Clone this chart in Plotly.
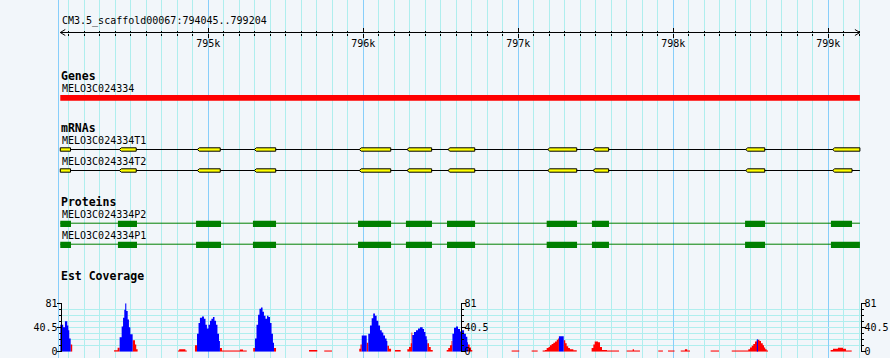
import plotly.graph_objects as go

# ---------------- data ----------------
region_name = "CM3.5_scaffold00067"
view_start = 794045
view_end = 799204
ruler_tickvals = [795000, 796000, 797000, 798000, 799000]
ruler_ticktext = ["795k", "796k", "797k", "798k", "799k"]

gene_name = "MELO3C024334"
gene_start = 794045
gene_end = 799204

mrna_names = ["MELO3C024334T1", "MELO3C024334T2"]
mrna_exon_starts = [794045, 794426, 794929, 795297, 795974, 796282, 796546, 797190, 797482, 798467, 799028]
t1_exon_ends = [794111, 794535, 795077, 795435, 796177, 796441, 796719, 797377, 797583, 798590, 799204]
t2_exon_ends = [794111, 794535, 795077, 795435, 796177, 796441, 796719, 797377, 797583, 798590, 799153]

protein_names = ["MELO3C024334P2", "MELO3C024334P1"]
cds_starts = [794045, 794417, 794921, 795288, 795966, 796275, 796540, 797183, 797475, 798463, 799017]
p2_cds_ends = [794114, 794540, 795082, 795437, 796179, 796443, 796721, 797379, 797585, 798592, 799153]
p1_cds_ends = [794114, 794540, 795082, 795437, 796179, 796443, 796721, 797379, 797585, 798592, 799204]

cov_max = 81
cov_tickvals = [0, 40.5, 81]
cov_ticktext = ["0", "40.5", "81"]

# coverage (step change points: position, value)
cov_red_x = [794112, 794122,
             794392, 794415, 794428, 794512, 794527, 794535, 794544,
             794804, 794812, 794852, 794861,
             794914, 794927, 795075, 795088, 795204, 795224, 795248,
             795290, 795301, 795424, 795437,
             795650, 795703, 795748, 795798,
             795974, 795982, 795990, 796022, 796032, 796155, 796166, 796179,
             796204, 796241,
             796284, 796295, 796306, 796311, 796316, 796413, 796424, 796435, 796448,
             796538, 796548, 796559, 796569, 796575, 796675, 796686, 796695, 796703,
             796957, 797006, 797086, 797125,
             797157, 797172, 797183, 797195, 797204, 797215, 797226, 797237, 797248, 797256,
             797262, 797293, 797303, 797312, 797322, 797333, 797355, 797377,
             797473, 797484, 797493, 797514, 797527, 797540, 797572, 797650,
             797699, 797738, 797746, 797785,
             797903, 797933, 797966, 798008,
             798048, 798075, 798090, 798108,
             798241, 798295,
             798377, 798484, 798495, 798506, 798516, 798527, 798538, 798546, 798556,
             798566, 798577, 798585, 798593, 798602, 798611,
             799015, 799030, 799062, 799095, 799114, 799151]
cov_red_y = [12, 0,
             2.5, 6.5, 0, 19, 12, 4, 0,
             2, 4, 2, 0,
             11, 0, 6, 2, 3.7, 2, 0,
             6, 0, 6, 0,
             3, 0, 2, 0,
             5, 12, 0, 15, 0, 10, 5, 0,
             3, 0,
             4, 8, 14, 32, 0, 14, 8, 3, 0,
             3, 6, 11, 18, 0, 12, 7, 3, 0,
             2, 0, 2, 0,
             2, 3, 6, 8, 11, 13, 15, 17, 20, 22,
             0, 19, 14, 9, 6, 4, 2.5, 0,
             6, 12, 17, 16, 8, 3, 2, 0,
             2, 4, 2, 0,
             2, 0, 2, 0,
             2, 4, 2, 0,
             2, 0,
             2, 4, 7, 10, 13, 17, 19, 20, 18,
             14, 11, 7, 4, 2, 0,
             3, 5, 6.5, 5, 2, 0]

cov_blue_x = [794045, 794064, 794075, 794090, 794097, 794103, 794112,
              794428, 794441, 794450, 794458, 794464, 794471, 794480, 794488, 794497, 794512,
              794927, 794937, 794946, 794959, 794972, 794982, 794991, 795001, 795011, 795020,
              795030, 795040, 795050, 795059, 795069, 795075,
              795301, 795311, 795321, 795330, 795340, 795350, 795359, 795369, 795379, 795388,
              795398, 795408, 795417, 795424,
              795990, 796022, 796032, 796043, 796054, 796064, 796075, 796086, 796097, 796108,
              796119, 796129, 796140, 796150, 796155,
              796316, 796327, 796340, 796353, 796366, 796383, 796392, 796401, 796409, 796413,
              796575, 796585, 796598, 796611, 796624, 796637, 796650, 796662, 796671, 796675,
              797262, 797293,
              798539, 798546]
cov_blue_y = [45, 41, 51, 44, 36, 22, 0,
              24, 42, 57, 70, 81, 68, 54, 41, 29, 0,
              30, 48, 57, 59, 55, 45, 39, 45, 52, 55,
              58, 52, 45, 30, 18, 0,
              22, 45, 62, 72, 74, 67, 60, 55, 60, 58,
              48, 30, 15, 0,
              27, 0, 30, 44, 56, 64, 60, 52, 44, 36,
              32, 27, 22, 18, 0,
              28, 33, 36, 39, 41, 38, 33, 26, 20, 0,
              30, 40, 42, 38, 34, 36, 30, 25, 16, 0,
              26, 0,
              21, 0]

# ---------------- layout helpers (pixels) ----------------
W, H = 890, 358
PX_PER_BP = 0.155
REF_BP, REF_PX = 795000, 208.3
MONO = "DejaVu Sans Mono"
BG = "#F2F6FA"
GRID_MINOR = "#AFEEEE"
GRID_MAJOR = "#87CEFA"


def bp_at(px):
    return REF_BP + (px - REF_PX) / PX_PER_BP


def bp_len(px):
    return px / PX_PER_BP


def paper_x(px):
    return px / W


def paper_y(px):
    return 1 - px / H


x_range = [bp_at(59), bp_at(862)]
x_domain = [paper_x(59), paper_x(862)]


def boxes(starts, ends, top, bot, tip=0.0):
    xs, ys = [], []
    for s, e in zip(starts, ends):
        mid = (top + bot) / 2
        if tip > 0 and s > view_start:
            xs += [s, s + tip, e, e, s + tip, s, None]
            ys += [mid, top, top, bot, bot, mid, None]
        else:
            xs += [s, e, e, s, s, None]
            ys += [top, top, bot, bot, top, None]
    return xs, ys


fig = go.Figure()

# ruler line and arrow heads
RULER_Y = 32.5
fig.add_trace(go.Scatter(x=[view_start, view_end], y=[RULER_Y, RULER_Y], mode="lines",
                         line=dict(color="black", width=1), xaxis="x2", yaxis="y",
                         hoverinfo="skip", showlegend=False))
a = bp_len(5)
fig.add_trace(go.Scatter(
    x=[view_start + a, view_start, view_start + a, None, view_end - a, view_end, view_end - a],
    y=[RULER_Y - 3, RULER_Y, RULER_Y + 3, None, RULER_Y - 3, RULER_Y, RULER_Y + 3],
    mode="lines", line=dict(color="black", width=1), xaxis="x2", yaxis="y",
    hoverinfo="skip", showlegend=False))
fig.add_trace(go.Scatter(x=[view_start], y=[RULER_Y], mode="markers", marker=dict(opacity=0),
                         xaxis="x3", yaxis="y", hoverinfo="skip", showlegend=False))

# gene bar
gx, gy = boxes([gene_start], [gene_end], 95, 100.7)
fig.add_trace(go.Scatter(x=gx, y=gy, fill="toself", fillcolor="#FF0000", mode="lines",
                         line=dict(width=0, color="#FF0000"), hoverinfo="skip", showlegend=False))

# mRNAs
mrna_rows = [(149.5, t1_exon_ends), (170.5, t2_exon_ends)]
for yc, ends in mrna_rows:
    fig.add_trace(go.Scatter(x=[mrna_exon_starts[0], view_end],
                             y=[yc, yc], mode="lines", line=dict(color="black", width=1),
                             hoverinfo="skip", showlegend=False))
    ex, ey = boxes(mrna_exon_starts, ends, yc - 1.7, yc + 1.7, tip=bp_len(2))
    fig.add_trace(go.Scatter(x=ex, y=ey, fill="toself", fillcolor="#FFFF00", mode="lines",
                             line=dict(color="black", width=1), hoverinfo="skip", showlegend=False))

# proteins
prot_rows = [(223.2, 220.7, 227.0, p2_cds_ends), (244.2, 241.7, 248.0, p1_cds_ends)]
for yl, top, bot, ends in prot_rows:
    fig.add_trace(go.Scatter(x=[cds_starts[0], view_end], y=[yl, yl], mode="lines",
                             line=dict(color="#008000", width=1), hoverinfo="skip", showlegend=False))
    px_, py_ = boxes(cds_starts, ends, top, bot)
    fig.add_trace(go.Scatter(x=px_, y=py_, fill="toself", fillcolor="#008000", mode="lines",
                             line=dict(width=0, color="#008000"), hoverinfo="skip", showlegend=False))

# coverage
fig.add_trace(go.Scatter(x=cov_red_x, y=cov_red_y, mode="lines", line=dict(shape="hv", width=0, color="#FF0000"),
                         fill="tozeroy", fillcolor="#FF0000", xaxis="x", yaxis="y2",
                         hoverinfo="skip", showlegend=False))
fig.add_trace(go.Scatter(x=cov_blue_x, y=cov_blue_y, mode="lines", line=dict(shape="hv", width=0, color="#0000FF"),
                         fill="tozeroy", fillcolor="#0000FF", xaxis="x", yaxis="y2",
                         hoverinfo="skip", showlegend=False))
for ax in ["y3", "y4"]:
    fig.add_trace(go.Scatter(x=[view_start], y=[0], mode="markers", marker=dict(opacity=0),
                             xaxis="x", yaxis=ax, hoverinfo="skip", showlegend=False))

# text labels
labels = [
    (f"{region_name}:{view_start}..{view_end}", 20.8, False),
    ("Genes", 76, True),
    (gene_name, 88, False),
    ("mRNAs", 127.5, True),
    (mrna_names[0], 140.2, False),
    (mrna_names[1], 161.8, False),
    ("Proteins", 201.7, True),
    (protein_names[0], 214.2, False),
    (protein_names[1], 235.5, False),
    ("Est Coverage", 276, True),
]
for text, yc, bold in labels:
    fig.add_annotation(text=f"<b>{text}</b>" if bold else text, xref="paper", yref="y",
                       x=paper_x(58.5 if bold else 59.5), y=yc, xanchor="left", yanchor="middle",
                       showarrow=False,
                       font=dict(family=MONO, size=11.5 if bold else 10, color="black"))

tickfont = dict(family=MONO, size=10, color="black")
cov_axis = dict(range=[0, cov_max], tickmode="array", tickvals=cov_tickvals, ticktext=cov_ticktext,
                ticks="outside", ticklen=4, tickwidth=1, tickcolor="black", tickfont=tickfont,
                showline=True, linecolor="black", linewidth=1, zeroline=False, fixedrange=True,
                automargin=False, ticklabelstandoff=-3,
                minor=dict(tickmode="linear", tick0=0, dtick=cov_max / 8, ticks="outside", ticklen=2,
                           tickwidth=1, tickcolor="black"))

fig.update_layout(
    template="none",
    width=W, height=H, autosize=False,
    margin=dict(l=0, r=0, t=0, b=0, pad=0, autoexpand=False),
    paper_bgcolor=BG, plot_bgcolor=BG,
    font=dict(family=MONO, size=10, color="black"),
    showlegend=False, hovermode=False,
    xaxis=dict(domain=x_domain, range=x_range, anchor="y", showticklabels=False, ticks="",
               showline=False, zeroline=False, automargin=False,
               tickmode="linear", tick0=REF_BP, dtick=1000,
               showgrid=True, gridcolor=GRID_MAJOR, gridwidth=1,
               minor=dict(tickmode="linear", tick0=REF_BP, dtick=100, showgrid=True,
                          gridcolor=GRID_MINOR, gridwidth=1)),
    xaxis2=dict(overlaying="x", anchor="free", position=paper_y(RULER_Y), range=x_range,
                showline=False, showgrid=False, zeroline=False, automargin=False,
                tickmode="array", tickvals=ruler_tickvals, ticktext=ruler_ticktext,
                ticks="outside", ticklen=4, tickwidth=1, tickcolor="black", tickfont=tickfont,
                ticklabelstandoff=-3,
                minor=dict(tickmode="linear", tick0=REF_BP, dtick=100, ticks="outside",
                           ticklen=2, tickwidth=1, tickcolor="black", showgrid=False)),
    xaxis3=dict(overlaying="x", anchor="free", position=paper_y(RULER_Y), range=x_range,
                showline=False, showgrid=False, zeroline=False, showticklabels=False,
                automargin=False,
                tickmode="array", tickvals=ruler_tickvals,
                ticks="inside", ticklen=5, tickwidth=1, tickcolor="black",
                minor=dict(tickmode="linear", tick0=REF_BP, dtick=100, ticks="inside",
                           ticklen=2, tickwidth=1, tickcolor="black", showgrid=False)),
    yaxis=dict(domain=[0, 1], range=[H, 0], anchor="x", showticklabels=False, ticks="",
               automargin=False,
               showgrid=False, zeroline=False, showline=True, linecolor=GRID_MAJOR, linewidth=1),
    yaxis2=dict(domain=[paper_y(351.7), paper_y(303.3)], anchor="free", position=paper_x(60.5),
                side="left", showgrid=True, gridcolor=GRID_MINOR, gridwidth=1,
                **{k: v for k, v in cov_axis.items() if k != "minor"},
                minor=dict(cov_axis["minor"], showgrid=True, gridcolor=GRID_MINOR, gridwidth=1)),
    yaxis3=dict(overlaying="y2", anchor="free", position=paper_x(460.5), side="right",
                showgrid=False, **cov_axis),
    yaxis4=dict(overlaying="y2", anchor="free", position=paper_x(860.5), side="right",
                showgrid=False, **cov_axis),
)

fig.write_html("out.html", config={"displayModeBar": False},
               post_script="document.body.style.margin='0';document.body.style.overflow='hidden';")
